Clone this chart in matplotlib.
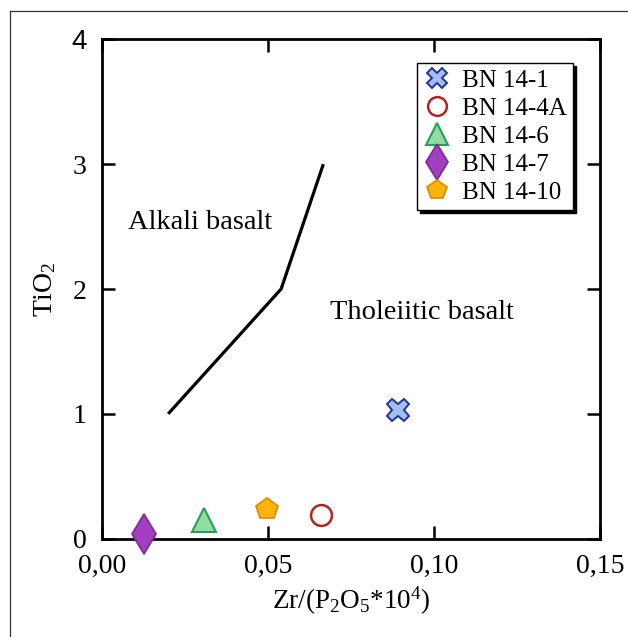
import matplotlib
matplotlib.use("Agg")
import matplotlib.pyplot as plt
from matplotlib.lines import Line2D

# Serif text everywhere, mathtext for the sub/superscripts in the same face
plt.rcParams["font.family"] = ["Liberation Serif", "DejaVu Serif"]
plt.rcParams["mathtext.fontset"] = "custom"
plt.rcParams["mathtext.rm"] = "Liberation Serif"
plt.rcParams["mathtext.it"] = "Liberation Serif:italic"

# Samples: Zr/(P2O5*10^4) against TiO2
samples = ["BN 14-1", "BN 14-4A", "BN 14-6", "BN 14-7", "BN 14-10"]
zr_p2o5 = [0.0893, 0.0659, 0.0308, 0.0127, 0.0498]
tio2 = [1.03, 0.19, 0.15, 0.04, 0.235]

# Alkali / tholeiitic dividing line
div_x = [0.020, 0.054, 0.0667]
div_y = [1.0, 2.0, 3.0]

x_ticks = [0.00, 0.05, 0.10, 0.15]
x_labels = ["0,00", "0,05", "0,10", "0,15"]
y_ticks = [0, 1, 2, 3, 4]

# marker, size, face colour, edge colour, edge width
styles = [
    ("X", 16, "#9cc0f2", "#2a2f8f", 1.4),
    ("o", 15, "white", "#b2241c", 1.8),
    ("^", 17, "#8fdca4", "#27a055", 1.5),
    ("d", 20, "#a33ec0", "#7a2a96", 1.2),
    ("p", 16, "#ffb40a", "#dd8a00", 1.2),
]

fig = plt.figure(figsize=(6.28, 6.37), dpi=100)
ax = fig.add_axes([0.162, 0.1543, 0.7935, 0.784])

ax.plot(div_x, div_y, color="black", linewidth=2.3, solid_capstyle="butt")

handles = []
for name, x, y, (m, ms, fc, ec, ew) in zip(samples, zr_p2o5, tio2, styles):
    ax.plot([x], [y], linestyle="none", marker=m, markersize=ms,
            markerfacecolor=fc, markeredgecolor=ec, markeredgewidth=ew,
            clip_on=False, zorder=5)
    handles.append(Line2D([], [], linestyle="none", marker=m, markersize=ms * 0.9,
                          markerfacecolor=fc, markeredgecolor=ec,
                          markeredgewidth=ew, label=name))

ax.text(0.0079, 2.53, "Alkali basalt", fontsize=20.5, va="center", ha="left")
ax.text(0.0687, 1.81, "Tholeiitic basalt", fontsize=20.5, va="center", ha="left")

ax.set_xlim(0, 0.15)
ax.set_ylim(0, 4)
ax.set_xticks(x_ticks)
ax.set_xticklabels(x_labels)
ax.set_yticks(y_ticks)
ax.tick_params(direction="in", length=9.5, width=1.8, top=True, right=True,
               labelsize=20, pad=11)
for lab in ax.get_yticklabels():
    if lab.get_text() == "4":
        lab.set_fontfamily(["Liberation Sans", "DejaVu Sans"])
for sp in ax.spines.values():
    sp.set_linewidth(2.0)

ax.set_xlabel(r"Zr/(P$_2$O$_5$*10$^4$)", fontsize=19.5, labelpad=4)
ax.set_ylabel(r"TiO$_2$", fontsize=20, labelpad=9)

leg = ax.legend(handles=handles, loc="upper right", bbox_to_anchor=(0.946, 0.9525),
                borderaxespad=0, fontsize=18, frameon=True, fancybox=False,
                shadow={"color": "black", "alpha": 1.0}, labelspacing=0.22,
                handletextpad=0.45, handlelength=1.1, borderpad=0.25)
leg.get_frame().set_edgecolor("black")
leg.get_frame().set_linewidth(1.0)

# thin frame along the top and left edges of the figure
fig.add_artist(Line2D([10 / 628, 10 / 628], [0, 1 - 11 / 637], color="#333333",
                      linewidth=0.9, transform=fig.transFigure))
fig.add_artist(Line2D([10 / 628, 1], [1 - 11 / 637, 1 - 11 / 637], color="#333333",
                      linewidth=0.9, transform=fig.transFigure))

fig.savefig("out.png", dpi=100)
